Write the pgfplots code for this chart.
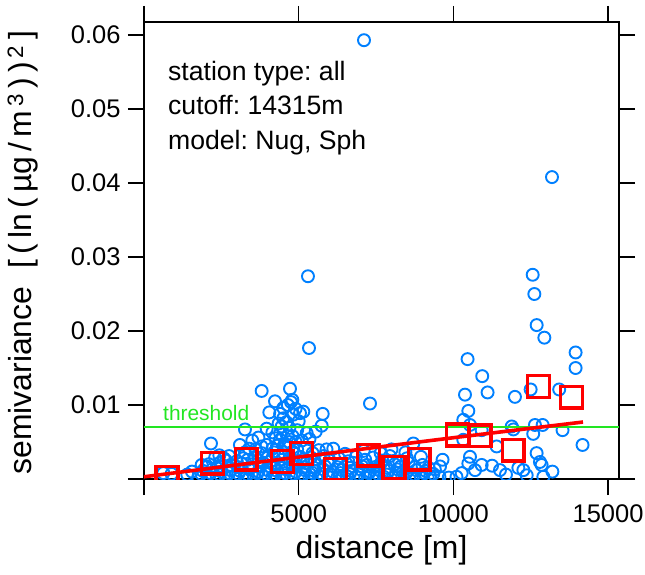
\documentclass[border=0pt]{standalone}
\usepackage{fontspec}
\setmainfont{Liberation Sans}
\usepackage{pgfplots}
\pgfplotsset{compat=1.18}
\definecolor{cloudblue}{HTML}{0080FF}
\definecolor{thrgreen}{HTML}{22E622}
\frenchspacing

\begin{document}
\begin{tikzpicture}
\useasboundingbox (-144bp,-96bp) rectangle (501bp,479bp);
\begin{axis}[
  at={(0,0)}, anchor=south west,
  scale only axis, width=475bp, height=457bp,
  xmin=0, xmax=15353, ymin=0, ymax=0.06176,
  xtick={0,5000,10000,15000}, xticklabels={,5000,10000,15000},
  ytick={0,0.01,0.02,0.03,0.04,0.05,0.06},
  yticklabels={,0.01,0.02,0.03,0.04,0.05,0.06},
  scaled y ticks=false, scaled x ticks=false,
  /pgf/number format/assume math mode=true,
  tick align=outside, major tick length=16bp,
  tick style={line width=1.2bp, black},
  axis line style={line width=1.2bp},
  ticklabel style={font=\fontsize{25.6}{30}\selectfont},
  yticklabel style={xshift=-4bp},
  xticklabel style={yshift=-6bp},
  xlabel={distance [m]},
  ylabel={semivariance\hspace{18bp}[\,(\,ln\,(\,µg\,/\,m\textsuperscript{\,3}\,)\,)\textsuperscript{\,2}\,]},
  label style={font=\fontsize{32}{36}\selectfont},
  xlabel style={at={(axis description cs:0.5,-0.1729)}, anchor=base},
  ylabel style={at={(axis description cs:-0.2358,0.495)}, anchor=base},
  clip marker paths=true,
]
% variogram cloud
\addplot[only marks, mark=o, mark size=6bp, color=cloudblue, mark options={line width=1.9bp}] coordinates {
(624,0.0008) (894,0.0007) (1400,0.0006) (1550,0.0010)
(1750,0.0002) (2050,0.0004) (2350,0.0003) (2650,0.0002) (2950,0.0004) (3250,0.0003) (3550,0.0002)
(3850,0.0004) (4150,0.0003) (4450,0.0002) (4750,0.0004) (5050,0.0003) (5350,0.0002) (5650,0.0004)
(5950,0.0003) (6250,0.0002) (6550,0.0004) (6850,0.0003) (7150,0.0002) (7450,0.0004) (7750,0.0003)
(8050,0.0002) (8350,0.0004) (8650,0.0003) (8950,0.0002) (9250,0.0004) (9550,0.0003) (9850,0.0002)
(1850,0.0007) (2150,0.0008) (2450,0.0006) (2750,0.0008) (3050,0.0007) (3350,0.0006) (3650,0.0008)
(3950,0.0007) (4250,0.0006) (4550,0.0008) (4850,0.0007) (5150,0.0006) (5450,0.0008) (5750,0.0007)
(6050,0.0006) (6350,0.0008) (6650,0.0007) (6950,0.0006) (7250,0.0008) (7550,0.0007) (7850,0.0006)
(8150,0.0008) (8450,0.0007) (8750,0.0006) (9050,0.0008) (9350,0.0007)
(1900,0.0011) (2200,0.0013) (2500,0.0010) (2800,0.0012) (3100,0.0011) (3400,0.0013) (3700,0.0010)
(4000,0.0012) (4300,0.0011) (4600,0.0013) (4900,0.0010) (5200,0.0012) (5500,0.0011) (5800,0.0013)
(6100,0.0010) (6400,0.0012) (6700,0.0011) (7000,0.0013) (7300,0.0010) (7600,0.0012) (7900,0.0011)
(8200,0.0013) (8500,0.0010) (8800,0.0012) (9100,0.0011) (9400,0.0013)
(2000,0.0016) (2350,0.0015) (2700,0.0017) (3050,0.0016) (3400,0.0015) (3750,0.0017) (4100,0.0016)
(4450,0.0015) (4800,0.0017) (5150,0.0016) (5500,0.0015) (5850,0.0017) (6250,0.0016) (6650,0.0015)
(7050,0.0017) (7450,0.0016) (7850,0.0015) (8300,0.0017) (8750,0.0016) (9200,0.0015)
(2100,0.0020) (2450,0.0022) (2800,0.0019) (3150,0.0021) (3500,0.0020) (3850,0.0022) (4200,0.0019)
(4550,0.0021) (4900,0.0020) (5250,0.0022) (5600,0.0019) (5950,0.0021) (6350,0.0020) (6750,0.0022)
(7200,0.0019) (7650,0.0021) (8100,0.0020) (8550,0.0022) (9000,0.0019)
(2650,0.0025) (3000,0.0024) (3350,0.0026) (3700,0.0025) (4100,0.0024) (4450,0.0026) (4800,0.0025)
(5150,0.0024) (5500,0.0026) (6000,0.0025) (6600,0.0024) (7150,0.0026) (7700,0.0025) (8250,0.0024)
(2300,0.0029) (2750,0.0031) (3200,0.0028) (3600,0.0030) (4000,0.0029) (4350,0.0031) (4700,0.0028)
(5050,0.0030) (5400,0.0029) (5800,0.0031) (6300,0.0028) (6850,0.0030) (7400,0.0029) (7950,0.0031)
(8500,0.0028) (8950,0.0030)
(1864,0.0019) (2025,0.0017) (2165,0.0048) (2434,0.0032) (2580,0.0028)
(3100,0.0046) (3264,0.0036) (3600,0.0040) (3803,0.0035) (3965,0.0046) (3264,0.0067) (3965,0.0068)
(3500,0.0052) (3700,0.0056) (3803,0.0119) (3400,0.0041) (3800,0.0044) (4200,0.0036) (5650,0.0039)
(4050,0.0090) (4150,0.0041) (4234,0.0105) (4250,0.0055) (4400,0.0062) (4450,0.0071) (4500,0.0082)
(4503,0.0096) (4600,0.0045) (4650,0.0058) (4719,0.0122) (4751,0.0104) (4794,0.0107) (4800,0.0037)
(4826,0.0087) (4900,0.0050) (4950,0.0066) (5042,0.0089) (5149,0.0091) (5200,0.0042) (5258,0.0062)
(5350,0.0054) (5450,0.0035) (5549,0.0064) (5743,0.0072) (5776,0.0088) (4600,0.0077) (4700,0.0069)
(4400,0.0088) (4900,0.0095) (4650,0.0100) (4350,0.0075) (5000,0.0078) (4150,0.0063) (4800,0.0058)
(4550,0.0048) (4950,0.0040) (4300,0.0045) (5100,0.0052) (4500,0.0036) (4400,0.0053) (4700,0.0050)
(5300,0.0274) (5333,0.0177)
(5900,0.0040) (6118,0.0041) (6500,0.0034) (7100,0.0038) (7305,0.0102) (7111,0.0593)
(7650,0.0035) (8000,0.0040) (8450,0.0036) (8705,0.0048) (9568,0.0017) (9650,0.0026)
(10268,0.0008) (10321,0.0080) (10321,0.0053) (10375,0.0114) (10458,0.0162) (10483,0.0092)
(10483,0.0021) (10537,0.0073) (10537,0.0030) (10914,0.0066) (10914,0.0019) (10932,0.0139)
(11105,0.0117) (11398,0.0044) (11506,0.0012) (11885,0.0071) (11939,0.0067) (11990,0.0111)
(12262,0.0012) (12370,0.0005) (12497,0.0121) (12563,0.0276) (12580,0.0061) (12617,0.0250)
(12636,0.0073) (12690,0.0035) (12692,0.0208) (12798,0.0023) (12852,0.0019) (12885,0.0073)
(12908,0.0003) (12940,0.0191) (13187,0.0408) (13420,0.0121) (13528,0.0066) (13950,0.0171)
(13950,0.0150) (14175,0.0046)
(10100,0.0003) (10700,0.0012) (11250,0.0018) (11700,0.0006) (12100,0.0015) (13200,0.0010)
};
% threshold
\addplot[color=thrgreen, line width=1.8bp] coordinates {(0,0.007) (15353,0.007)};
% binned semivariances
\addplot[only marks, mark=square, mark size=10.9bp, color=red, mark options={line width=3.4bp}] coordinates {
(743,0.0002) (2214,0.00214) (3303,0.00268) (4476,0.00236) (5091,0.00345) (6184,0.00132)
(7256,0.00322) (8080,0.00155) (8893,0.00268) (10139,0.00595) (10860,0.00584) (11936,0.00390)
(12750,0.0125) (13817,0.01106)
};
% fitted model
\addplot[color=red, line width=3.6bp] coordinates {
(0,0.0003) (2000,0.00137) (4000,0.00243) (6000,0.00349) (8000,0.00454) (10000,0.00558)
(12000,0.00660) (14190,0.00770)
};
\node[anchor=base west, text=thrgreen, font=\fontsize{21}{24}\selectfont, inner sep=0pt] at (axis cs:614,0.00784) {threshold};
\node[anchor=base west, inner sep=0pt, font=\fontsize{26.7}{30}\selectfont] at (rel axis cs:0.0505,0.873) {station type: all};
\node[anchor=base west, inner sep=0pt, font=\fontsize{26.7}{30}\selectfont] at (rel axis cs:0.0505,0.797) {cutoff: 14315m};
\node[anchor=base west, inner sep=0pt, font=\fontsize{26.7}{30}\selectfont] at (rel axis cs:0.0505,0.720) {model: Nug, Sph};
\end{axis}
\end{tikzpicture}
\end{document}
